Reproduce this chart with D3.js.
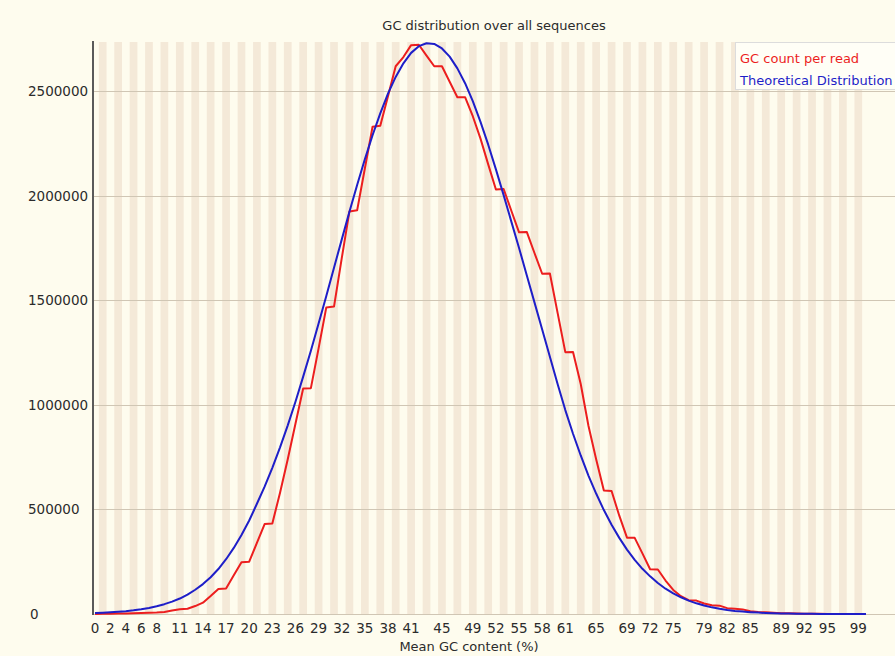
<!DOCTYPE html>
<meta charset="utf-8">
<style>

html, body {
  margin: 0;
  background: #fefcee;
}

svg {
  display: block;
  font-family: 'DejaVu Sans', sans-serif;
}

.stripe {
  fill: #f4e9d8;
}

.grid line {
  stroke: #d0c6b4;
  stroke-width: 1px;
}

.ylabels text, .xlabels text {
  font-size: 13.5px;
  fill: #2b2b2b;
}

.series {
  fill: none;
  stroke-width: 2px;
  stroke-linejoin: round;
}

</style>
<svg class="chart"></svg>
<script src="https://cdnjs.cloudflare.com/ajax/libs/d3/7.8.5/d3.min.js"></script>
<script>

var width = 895;
var height = 656;

var gcPercent = d3.range(0, 101);

// GC count per read (red)
var gcCount = [
  500, 800, 1200, 1800, 2500, 3500, 4500, 6000, 7500, 10000,
  17000, 23000, 25000, 38000, 54000, 86000, 120000, 122000, 185000, 248000,
  250000, 340000, 430000, 433000, 580000, 740000, 910000, 1078000, 1080000, 1270000,
  1466000, 1470000, 1700000, 1925000, 1930000, 2130000, 2330000, 2335000, 2476000, 2619000,
  2663000, 2720000, 2722000, 2670000, 2619000, 2619000, 2545000, 2471000, 2471000, 2380000,
  2273000, 2150000, 2030000, 2032000, 1928000, 1825000, 1827000, 1726000, 1627000, 1628000,
  1440000, 1252000, 1253000, 1100000, 900000, 740000, 590000, 588000, 470000, 365000,
  364000, 290000, 214000, 213000, 160000, 115000, 85000, 66000, 64000, 50000,
  42000, 40000, 28000, 25000, 22000, 13000, 9000, 8000, 6000, 4000,
  3000, 2000, 1500, 1000, 700, 500, 300, 200, 100, 100,
  0
];

// Theoretical distribution (blue)
var theoretical = [
  4500, 6000, 8000, 10500, 13500, 17500, 22500, 29000, 37000, 47000,
  59000, 74000, 93000, 116000, 143000, 176000, 215000, 262000, 316000, 378000,
  447000, 527000, 609000, 699000, 797000, 902000, 1015000, 1135000, 1259000, 1389000,
  1521000, 1656000, 1790000, 1923000, 2051000, 2174000, 2289000, 2394000, 2488000, 2568000,
  2633000, 2683000, 2715000, 2729000, 2726000, 2704000, 2665000, 2609000, 2538000, 2452000,
  2353000, 2244000, 2126000, 2003000, 1876000, 1750000, 1620000, 1490000, 1360000, 1230000,
  1100000, 975000, 862000, 758000, 662000, 576000, 497000, 427000, 364000, 308000,
  259000, 216000, 180000, 148000, 121000, 99000, 80000, 64000, 51000, 40500,
  31800, 24900, 19300, 14900, 11400, 8700, 6600, 5000, 3700, 2700,
  2000, 1500, 1100, 800, 550, 400, 280, 190, 130, 90,
  60
];

var xTickValues = [0, 2, 4, 6, 8, 11, 14, 17, 20, 23, 26, 29, 32, 35, 38, 41, 45,
  49, 52, 55, 58, 61, 65, 69, 72, 75, 79, 82, 85, 89, 92, 95, 99];
var yTickValues = [0, 500000, 1000000, 1500000, 2000000, 2500000];

var seriesNames = ['GC count per read', 'Theoretical Distribution'];
var seriesColors = ['#ec1e1e', '#1e1ec8'];

var plotLeft = 93;
var plotTop = 42;
var plotBottom = 614;

var svg = d3.select('svg.chart')
  .attr('width', width)
  .attr('height', height);

var x = d3.scaleLinear()
  .domain([0, 100])
  .range([95, 866]);

var y = d3.scaleLinear()
  .domain([0, 2735000])
  .range([plotBottom, plotTop]);

var colWidth = x(1) - x(0);

// Alternating column stripes
svg.append('g')
  .selectAll('rect')
  .data(gcPercent.filter(function (d) { return d % 2 === 1; }))
  .enter().append('rect')
  .attr('class', 'stripe')
  .attr('x', function (d) { return x(d) - colWidth / 2; })
  .attr('y', plotTop)
  .attr('width', colWidth)
  .attr('height', plotBottom - plotTop);

// Horizontal grid lines
svg.append('g')
  .attr('class', 'grid')
  .selectAll('line')
  .data(yTickValues)
  .enter().append('line')
  .attr('x1', plotLeft)
  .attr('x2', width)
  .attr('y1', function (d) { return Math.round(y(d)) + 0.5; })
  .attr('y2', function (d) { return Math.round(y(d)) + 0.5; });

// Y labels (left aligned, as in the original)
svg.append('g')
  .attr('class', 'ylabels')
  .selectAll('text')
  .data(yTickValues)
  .enter().append('text')
  .attr('x', function (d) { return d === 0 ? 30 : 28; })
  .attr('y', function (d) { return y(d) + 5; })
  .text(function (d) { return d; });

// X labels
svg.append('g')
  .attr('class', 'xlabels')
  .selectAll('text')
  .data(xTickValues)
  .enter().append('text')
  .attr('x', function (d) { return x(d); })
  .attr('y', 633)
  .attr('text-anchor', 'middle')
  .text(function (d) { return d; });

// Left axis
svg.append('line')
  .attr('x1', plotLeft)
  .attr('x2', plotLeft)
  .attr('y1', plotTop - 1)
  .attr('y2', plotBottom + 1)
  .attr('stroke', '#5a5a5a')
  .attr('stroke-width', 2);

// Series
var line = d3.line()
  .x(function (d, i) { return x(gcPercent[i]); })
  .y(function (d) { return y(d); });

[gcCount, theoretical].forEach(function (s, k) {
  svg.append('path')
    .datum(s)
    .attr('class', 'series')
    .attr('stroke', seriesColors[k])
    .attr('d', line);
});

// Title and axis label
svg.append('text')
  .attr('x', 494)
  .attr('y', 30)
  .attr('text-anchor', 'middle')
  .style('font-size', '13px')
  .attr('fill', '#2b2b2b')
  .text('GC distribution over all sequences');

svg.append('text')
  .attr('x', 469)
  .attr('y', 651)
  .attr('text-anchor', 'middle')
  .style('font-size', '13px')
  .attr('fill', '#2b2b2b')
  .text('Mean GC content (%)');

// Legend
var legend = svg.append('g');

legend.append('rect')
  .attr('x', 735.5)
  .attr('y', 42.5)
  .attr('width', 170)
  .attr('height', 47)
  .attr('fill', '#fffef6')
  .attr('stroke', '#dcdcdc');

legend.selectAll('text')
  .data(seriesNames)
  .enter().append('text')
  .attr('x', 740)
  .attr('y', function (d, i) { return 63 + i * 22; })
  .style('font-size', '13px')
  .attr('fill', function (d, i) { return seriesColors[i]; })
  .text(function (d) { return d; });

</script>
